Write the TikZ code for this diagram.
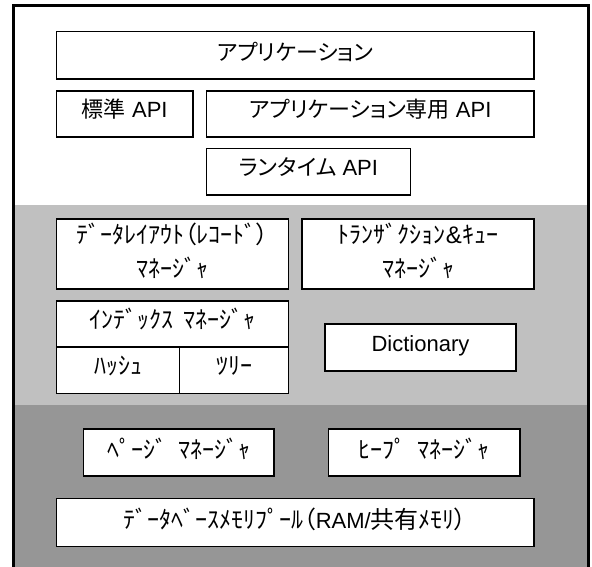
\documentclass[tikz,border=0pt]{standalone}
\usepackage{fontspec}
\setmainfont{Noto Sans CJK JP}[RawFeature=+palt]
\newfontfamily\lat{Liberation Sans}
\definecolor{bandlight}{HTML}{C0C0C0}
\definecolor{banddark}{HTML}{969696}
\begin{document}
\begin{tikzpicture}[x=1pt,y=-1pt,
  box/.style={draw=black, line width=1.3pt, fill=white, inner sep=0pt, anchor=center},
  lbl/.style={inner sep=0pt, align=center, font=\fontsize{22}{34}\selectfont, text=black, text height=19.4pt, text depth=2.6pt},
  hlbl/.style={inner sep=0pt, align=center, font=\fontsize{24}{34}\selectfont, text=black, text height=21.1pt, text depth=2.9pt},
  hlbl2/.style={inner sep=0pt, align=center, font=\fontsize{24}{34}\selectfont, text=black}
]
\clip (0,0) rectangle (592,566);
% background bands
\fill[white] (13.5,5.5) rectangle (588.5,205);
\fill[bandlight] (13.5,205) rectangle (588.5,405);
\fill[banddark] (13.5,405) rectangle (588.5,580);
\draw[line width=3pt] (13.5,580) -- (13.5,5.5) -- (588.5,5.5) -- (588.5,580);

% top layer
\node[box, minimum width=477.5pt, minimum height=47.5pt] (app) at (295.25,55.25) {};
\node[lbl, yshift=3.25pt] (appT) at (app) {アプリケーション};

\node[box, minimum width=136.5pt, minimum height=46pt] (std) at (124.75,114) {};
\node[lbl, yshift=4.5pt] (stdT) at (std) {標準{\lat\ API}};

\node[box, minimum width=327.5pt, minimum height=46pt] (appapi) at (370.25,114) {};
\node[lbl, yshift=4.5pt] (appapiT) at (appapi) {アプリケーション専用{\lat\ API}};

\node[box, minimum width=204pt, minimum height=46.5pt] (rt) at (308.5,171.75) {};
\node[lbl, yshift=4.25pt] (rtT) at (rt) {ランタイム{\lat\ API}};

% middle layer
\node[box, minimum width=232pt, minimum height=70pt] (dl) at (172.5,254) {};
\node[hlbl2, yshift=3pt] (dlT) at (dl) {ﾃﾞｰﾀﾚｲｱｳﾄ（ﾚｺｰﾄﾞ）\\ﾏﾈｰｼﾞｬ};

\node[box, minimum width=232pt, minimum height=70pt] (tr) at (418,254) {};
\node[hlbl2, yshift=3pt] (trT) at (tr) {ﾄﾗﾝｻﾞｸｼｮﾝ{\lat\&}ｷｭｰ\\ﾏﾈｰｼﾞｬ};

\node[box, minimum width=232pt, minimum height=46pt] (idx) at (172.5,324) {};
\node[hlbl, yshift=4.5pt] (idxT) at (idx) {ｲﾝﾃﾞｯｸｽ\hspace{0.45em}ﾏﾈｰｼﾞｬ};

\node[box, minimum width=123pt, minimum height=46.5pt] (hash) at (118,370.25) {};
\node[hlbl, yshift=5pt] (hashT) at (hash) {ﾊｯｼｭ};

\node[box, minimum width=109pt, minimum height=46.5pt] (tree) at (234,370.25) {};
\node[hlbl, yshift=5pt] (treeT) at (tree) {ﾂﾘｰ};

\node[box, minimum width=191pt, minimum height=47pt] (dict) at (420.5,347.5) {};
\node[lbl, yshift=4pt] (dictT) at (dict) {\lat Dictionary};

% bottom layer
\node[box, minimum width=190.5pt, minimum height=47pt] (page) at (178.75,452.5) {};
\node[hlbl, yshift=3.5pt] (pageT) at (page) {ﾍﾟｰｼﾞ\hspace{0.45em}ﾏﾈｰｼﾞｬ};

\node[box, minimum width=191.5pt, minimum height=47pt] (heap) at (424.25,452.5) {};
\node[hlbl, yshift=3.5pt] (heapT) at (heap) {ﾋｰﾌﾟ\hspace{0.45em}ﾏﾈｰｼﾞｬ};

\node[box, minimum width=477.5pt, minimum height=48pt] (pool) at (295.25,522.5) {};
\node[hlbl, yshift=3.5pt] (poolT) at (pool) {ﾃﾞｰﾀﾍﾞｰｽﾒﾓﾘﾌﾟｰﾙ（{\fontsize{22}{34}\selectfont\lat RAM/}共有ﾒﾓﾘ）};
\end{tikzpicture}
\end{document}
